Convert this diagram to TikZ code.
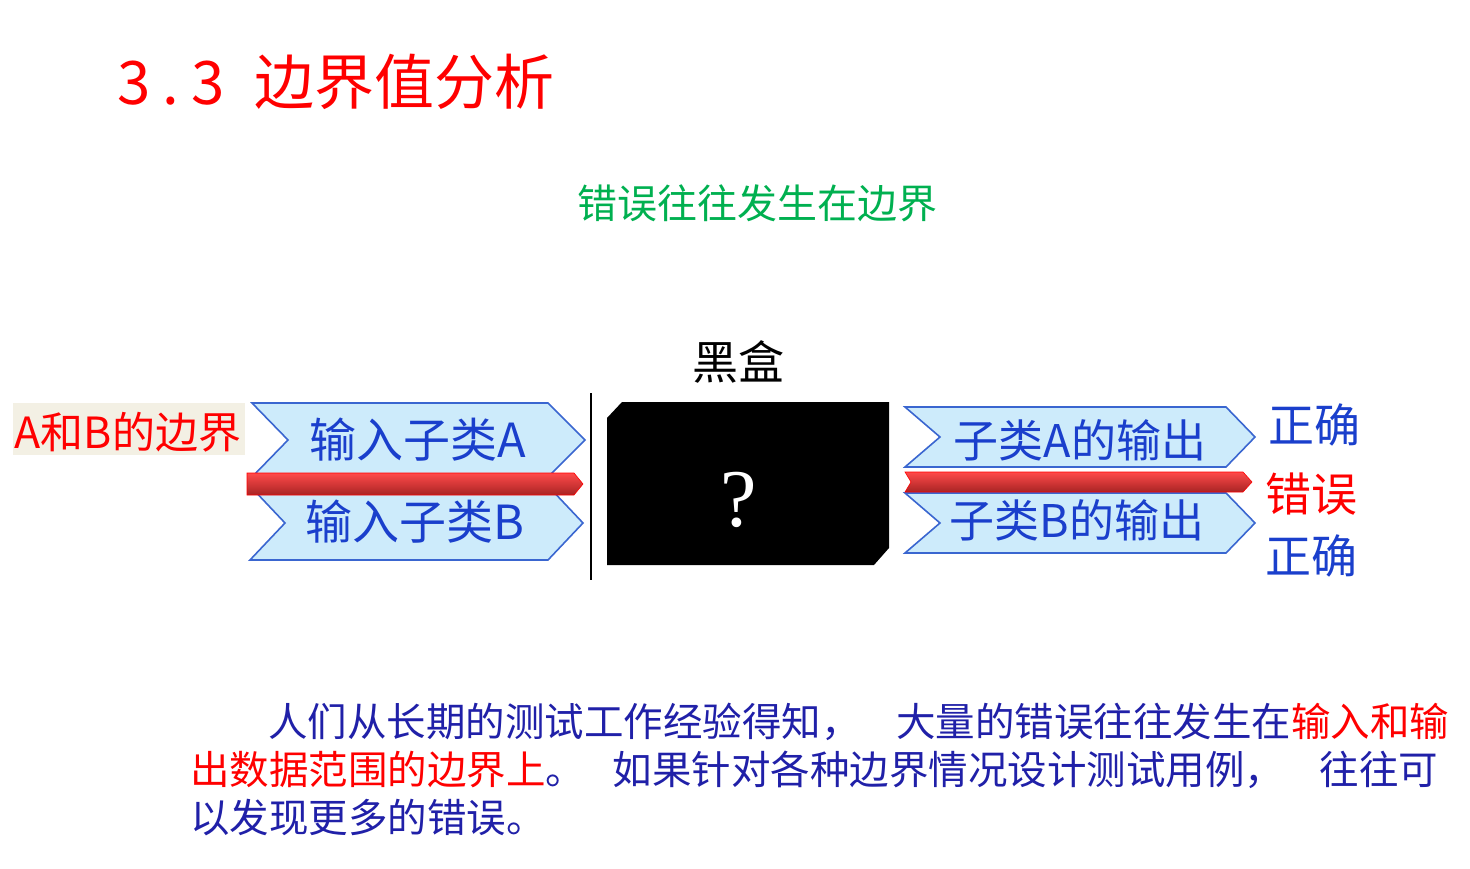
\documentclass[tikz,border=0pt]{standalone}
\usepackage{fontspec}
\setmainfont{Noto Sans CJK SC}
\newfontfamily\qfont{Liberation Serif}
\usepackage{xcolor}
\usepackage{tikz}
\usetikzlibrary{positioning,calc}
\definecolor{titlered}{HTML}{FF0000}
\definecolor{mottogreen}{HTML}{00B050}
\definecolor{inkblue}{HTML}{2020A8}
\definecolor{chevblue}{HTML}{1A3FCC}
\definecolor{chevfill}{HTML}{CDEBFB}
\definecolor{chevline}{HTML}{3A66D0}
\definecolor{barlight}{HTML}{FF4A4A}
\definecolor{bardark}{HTML}{A82424}
\definecolor{paper}{HTML}{F3F0E4}
\newcommand{\fs}[1]{\fontsize{#1}{#1}\selectfont}
\tikzset{
  chev/.style={fill=chevfill,draw=chevline,line width=1.6pt,line join=miter},
  redbar/.style={top color=barlight,bottom color=bardark,draw=titlered,line width=0.6pt},
  chevtext/.style={text=chevblue,inner sep=0pt,font=\fs{47}},
  verdict/.style={inner sep=0pt,font=\fs{46}},
  para/.style={text=inkblue,inner sep=0pt,anchor=west,font=\fs{39.5}}
}

\begin{document}
\begin{tikzpicture}[x=1pt,y=-1pt]
  \useasboundingbox (0,0) rectangle (1470,869);

  \node[text=titlered,anchor=west,inner sep=0pt,font=\fs{60}] (title) at (117,82) {3\hspace{0.2em}.\hspace{0.2em}3\hspace{0.5em}边界值分析};
  \node[text=mottogreen,inner sep=0pt,font=\fs{40}] (motto) at (757,203) {错误往往发生在边界};
  \node[inner sep=0pt,font=\fs{46}] (boxlabel) at (738,362) {黑盒};

  \fill[paper] (13,403) rectangle (245,455);
  \node[text=titlered,inner sep=0pt,font=\fs{43}] (edge) at (128,432) {A和B的边界};

  \filldraw[chev] (252,403) -- (548,403) -- (585,440) -- (548,477) -- (252,477) -- (288,440) -- cycle;
  \filldraw[chev] (250,486) -- (548,486) -- (583,523) -- (548,560) -- (250,560) -- (285,523) -- cycle;
  \shade[redbar] (247,473) -- (574,473) -- (583,484) -- (574,495) -- (247,495) -- cycle;
  \node[chevtext] (inA) at (418,440) {输入子类A};
  \node[chevtext] (inB) at (415,522) {输入子类B};

  \draw[line width=2.5pt] (591,393) -- (591,580);

  \fill (622,402) -- (889,402) -- (889,548) -- (874,565) -- (607,565) -- (607,418) -- cycle;
  \node[text=white,inner sep=0pt,font=\qfont\fs{82}] (qmark) at (739,500) {?};

  \filldraw[chev] (905,407) -- (1226,407) -- (1255,437) -- (1226,467) -- (905,467) -- (940,437) -- cycle;
  \filldraw[chev] (905,493) -- (1226,493) -- (1255,523) -- (1226,553) -- (905,553) -- (940,523) -- cycle;
  \shade[redbar] (905,472) -- (1243,472) -- (1252,482) -- (1243,492) -- (905,492) -- (911,482) -- cycle;
  \node[chevtext,font=\fs{45}] (outA) at (1080,440) {子类A的输出};
  \node[chevtext,font=\fs{45}] (outB) at (1077,520) {子类B的输出};

  \node[verdict,text=chevblue] (okA) at (1314,425) {正确};
  \node[verdict,text=titlered] (err) at (1311,494) {错误};
  \node[verdict,text=chevblue] (okB) at (1311,556) {正确};

  \node[para] (para1) at (268,722) {人们从长期的测试工作经验得知，\hspace{0.9em}大量的错误往往发生在\textcolor{titlered}{输入和输}};
  \node[para] (para2) at (190,770) {\textcolor{titlered}{出数据范围的边界上}。\hspace{0.7em}如果针对各种边界情况设计测试用例，\hspace{0.9em}往往可};
  \node[para] (para3) at (190,818) {以发现更多的错误。};
\end{tikzpicture}
\end{document}
